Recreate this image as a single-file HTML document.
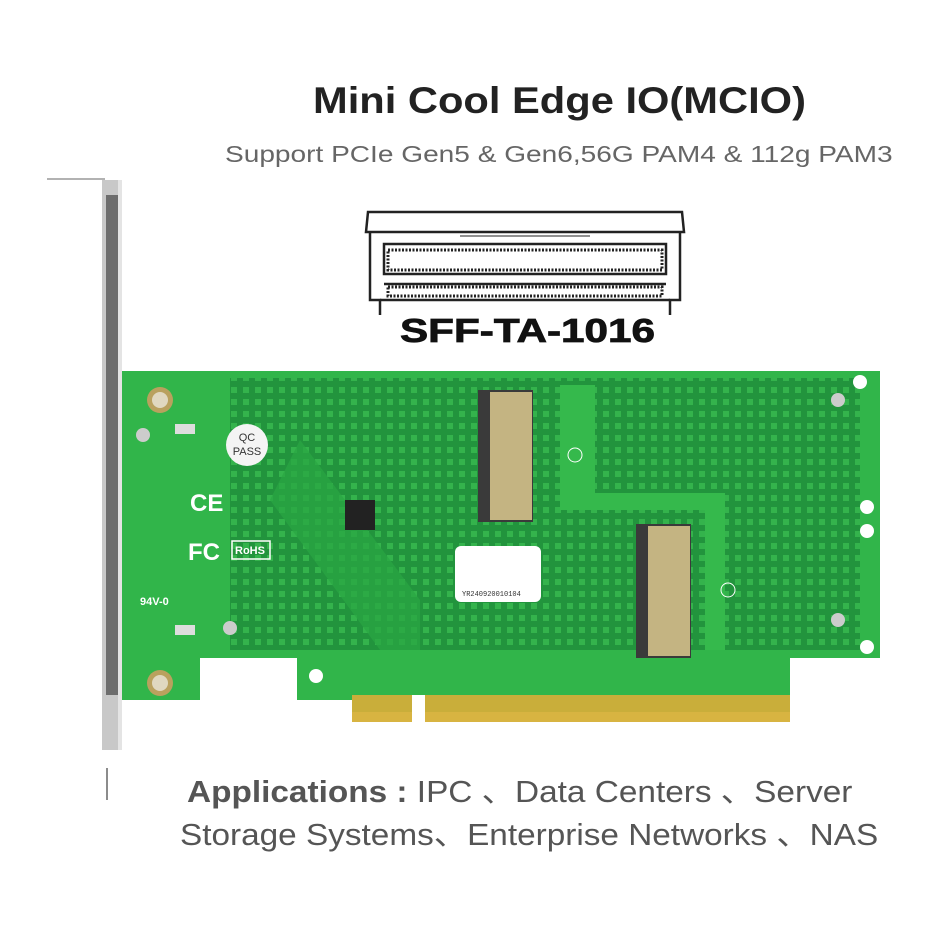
<!DOCTYPE html>
<html><head><meta charset="utf-8"><style>
html,body{margin:0;padding:0;background:#fff;width:950px;height:950px;overflow:hidden}
.t{position:absolute;font-family:"Liberation Sans","Noto Sans CJK SC",sans-serif;white-space:nowrap;transform-origin:0 0}
</style></head><body>
<div class="t" style="left:313px;top:80px;font-size:37px;font-weight:bold;color:#222;transform:scaleX(1.126)">Mini Cool Edge IO(MCIO)</div>
<div class="t" style="left:225px;top:141px;font-size:23px;color:#666;transform:scaleX(1.22)">Support PCIe Gen5 &amp; Gen6,56G PAM4 &amp; 112g PAM3</div>
<svg width="950" height="950" style="position:absolute;left:0;top:0">
<defs>
<pattern id="dots" width="12" height="12" patternUnits="userSpaceOnUse"><rect x="3" y="3" width="6" height="6" fill="#34b34c"/></pattern>
</defs>
<!-- connector drawing -->
<g fill="none" stroke="#222" stroke-width="2.5">
<path d="M368 212 L682 212 L684 232 L366 232 Z"/>
<path d="M370 232 L370 300 L380 300 L380 315 M680 232 L680 300 L670 300 L670 315"/>
<rect x="384" y="244" width="282" height="30"/>
<path d="M384 284 L666 284 M380 300 L670 300"/>
<path d="M460 236 L590 236" stroke-width="1"/>
</g>
<rect x="388" y="250" width="274" height="20" fill="none" stroke="#222" stroke-width="3" stroke-dasharray="2 1.5"/>
<rect x="388" y="287" width="274" height="9" fill="none" stroke="#222" stroke-width="3" stroke-dasharray="2 1.5"/>
<text x="400" y="342" textLength="255" lengthAdjust="spacingAndGlyphs" font-family="Liberation Sans,sans-serif" font-weight="bold" font-size="33" fill="#111" stroke="#111" stroke-width="0.8">SFF-TA-1016</text>
<!-- bracket -->
<path d="M47 179 L105 179" stroke="#999" stroke-width="1.5"/>
<rect x="102" y="180" width="20" height="570" fill="#c8c8c8"/>
<rect x="106" y="195" width="12" height="500" fill="#6d6d6d"/>
<rect x="118" y="180" width="4" height="570" fill="#e4e4e4"/>
<path d="M107 768 L107 800" stroke="#666" stroke-width="1.5"/>
<!-- PCB -->
<path d="M122 371 L880 371 L880 658 L790 658 L790 695 L357 695 L357 700 L297 700 L297 658 L200 658 L200 700 L122 700 Z" fill="#31b54a"/>
<rect x="352" y="695" width="60" height="27" fill="#c9ae3a"/>
<rect x="425" y="695" width="365" height="27" fill="#c9ae3a"/>
<rect x="352" y="712" width="60" height="10" fill="#d8b441"/>
<rect x="425" y="712" width="365" height="10" fill="#d8b441"/>
<path d="M230 378 L860 378 L860 650 L230 650 Z" fill="#22943d"/>
<rect x="230" y="378" width="630" height="272" fill="url(#dots)"/>
<path d="M560 385 L595 385 L595 493 L725 493 L725 650 L705 650 L705 510 L560 510 Z" fill="#35b94c"/>
<path d="M300 440 L420 600 L420 650 L380 650 L270 500 Z" fill="#2aa643" opacity="0.7"/>
<circle cx="860" cy="382" r="7" fill="#fff"/><circle cx="867" cy="507" r="7" fill="#fff"/>
<circle cx="867" cy="531" r="7" fill="#fff"/><circle cx="867" cy="647" r="7" fill="#fff"/>
<circle cx="316" cy="676" r="7" fill="#fff"/>
<circle cx="160" cy="400" r="13" fill="#b9a15e"/><circle cx="160" cy="400" r="8" fill="#e0d8c0"/>
<circle cx="160" cy="683" r="13" fill="#b9a15e"/><circle cx="160" cy="683" r="8" fill="#e0d8c0"/>
<circle cx="143" cy="435" r="7" fill="#ccc"/><circle cx="230" cy="628" r="7" fill="#ccc"/>
<circle cx="838" cy="400" r="7" fill="#ccc"/><circle cx="838" cy="620" r="7" fill="#ccc"/>
<rect x="175" y="424" width="20" height="10" fill="#ddd"/><rect x="175" y="625" width="20" height="10" fill="#ddd"/>
<circle cx="247" cy="445" r="21" fill="#f4f4f4"/>
<text x="247" y="441" text-anchor="middle" font-family="Liberation Sans,sans-serif" font-size="11" fill="#333">QC</text>
<text x="247" y="455" text-anchor="middle" font-family="Liberation Sans,sans-serif" font-size="11" fill="#333">PASS</text>
<text x="190" y="511" font-family="Liberation Sans,sans-serif" font-weight="bold" font-size="24" fill="#fff">CE</text>
<text x="188" y="560" font-family="Liberation Sans,sans-serif" font-weight="bold" font-size="24" fill="#fff">FC</text>
<rect x="232" y="541" width="38" height="18" fill="none" stroke="#fff" stroke-width="1.5"/>
<text x="235" y="554" font-family="Liberation Sans,sans-serif" font-weight="bold" font-size="11" fill="#fff">RoHS</text>
<text x="140" y="605" font-family="Liberation Sans,sans-serif" font-weight="bold" font-size="11" fill="#fff">94V-0</text>
<rect x="345" y="500" width="30" height="30" fill="#222"/>
<!-- connectors -->
<rect x="478" y="390" width="55" height="132" fill="#3a3a3a"/>
<rect x="490" y="392" width="42" height="128" fill="#c4b482"/>
<rect x="636" y="524" width="55" height="134" fill="#3a3a3a"/>
<rect x="648" y="526" width="42" height="130" fill="#c4b482"/>
<rect x="455" y="546" width="86" height="56" rx="6" fill="#fff"/>
<text x="462" y="596" font-family="Liberation Mono,monospace" font-size="7" fill="#333">YR240920010104</text>
<circle cx="575" cy="455" r="7" fill="none" stroke="#fff"/><circle cx="728" cy="590" r="7" fill="none" stroke="#fff"/>
</svg>
<div class="t" style="left:187px;top:766px;font-size:31px;color:#555;transform:scaleX(1.076)"><b>Applications :</b> IPC 、Data Centers 、Server</div>
<div class="t" style="left:180px;top:809px;font-size:31px;color:#555;transform:scaleX(1.075)">Storage Systems、Enterprise Networks 、NAS</div>
</body></html>
